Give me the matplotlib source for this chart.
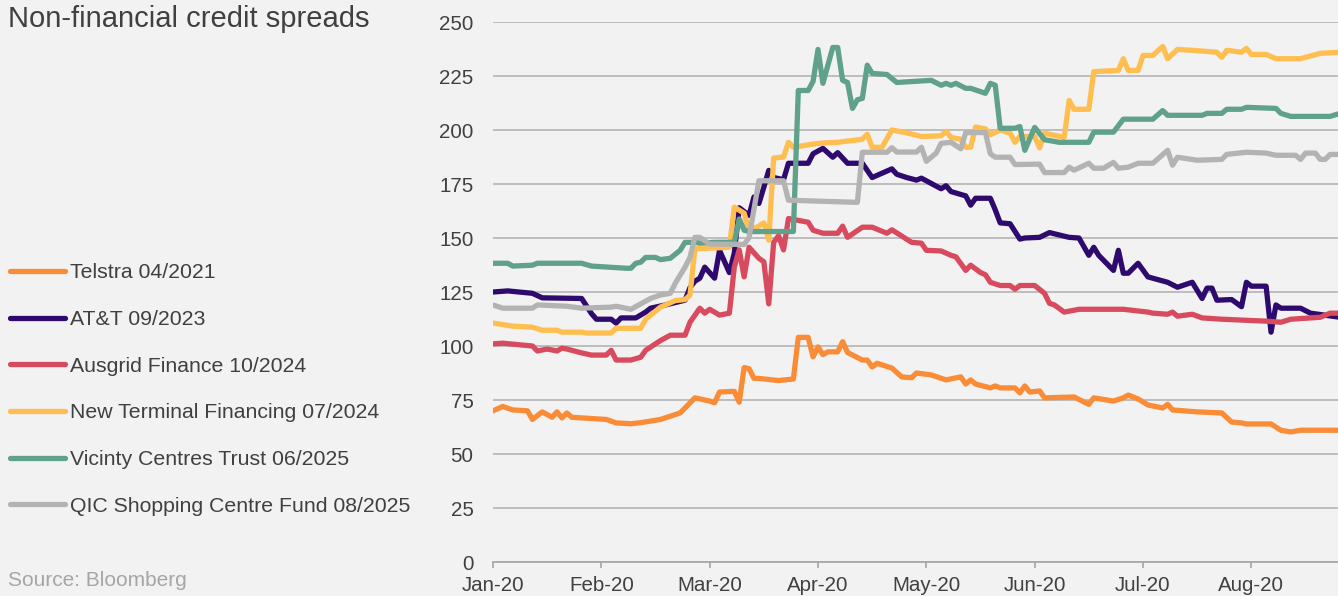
import numpy as np
import matplotlib
matplotlib.use("Agg")
import matplotlib.pyplot as plt

plt.rcParams['font.family'] = ['Liberation Sans', 'DejaVu Sans']

# x = observation number (business days since 1 Jan 2020), y = spread (bp)
telstra_obs = [0, 2, 4, 7, 8, 10, 12, 13, 14, 15, 16, 23, 25, 28, 30, 34, 38, 39, 41, 44,
               45, 46, 49, 50, 51, 52, 53, 54, 58, 61, 62, 64, 65, 66, 67, 68, 70, 71, 72, 75,
               76, 77, 78, 81, 83, 85, 86, 89, 92, 95, 96, 97, 98, 101, 102, 103, 106, 107, 108, 109,
               111, 112, 118, 121, 122, 126, 128, 129, 131, 133, 136, 137, 138, 143, 148, 150, 152, 153, 158, 160,
               162, 164, 172]
telstra_bp = [70, 72, 70.4, 70, 66, 69.5, 67, 69.5, 66.7, 69, 67, 66, 64.4, 64, 64.5, 66, 69, 71.3, 76, 74.5,
              73.7, 78.7, 79, 74, 90, 89.5, 85, 85, 84, 84.7, 104, 104, 95, 99.6, 96, 97.3, 97.3, 102, 97, 93.5,
              93.5, 90.3, 92, 89.8, 85.7, 85.3, 87.5, 86.6, 84.3, 85.7, 82.4, 84.3, 82.4, 80.6, 81.5, 80.6, 80.6, 78.3, 81.5, 78.7,
              79.2, 76, 76.4, 73, 76, 74.5, 76, 77.3, 75.5, 72.7, 71.3, 73, 70.4, 69.5, 69, 64.8, 64.4, 63.9, 63.9, 61,
              60.2, 61, 61]

att_obs = [0, 3, 8, 10, 18, 20, 21, 24, 25, 26, 29, 31, 32, 35, 39, 40, 41, 42, 43, 45,
           46, 48, 49, 50, 52, 53, 54, 55, 56, 57, 59, 60, 64, 65, 67, 69, 70, 72, 75, 77,
           81, 82, 84, 86, 87, 91, 92, 93, 96, 97, 98, 101, 102, 103, 105, 107, 108, 111, 113, 117,
           119, 121, 122, 123, 126, 127, 128, 129, 131, 133, 137, 139, 142, 144, 145, 146, 147, 150, 152, 153,
           154, 157, 158, 159, 160, 164, 166, 172]
att_bp = [125, 125.5, 124.4, 122.3, 122, 115, 112.4, 112.4, 110.6, 113, 113, 115.7, 117.5, 119, 121.2, 127, 130, 131.4, 136.5, 131.4,
          144.3, 134, 143, 164, 160.5, 169, 166, 173.5, 181.3, 178, 177, 184.6, 184.6, 189, 191.5, 187.4, 189.5, 184.6, 184.6, 178,
          182, 179.5, 178, 176.8, 177.7, 172.8, 174.2, 171.5, 169.5, 165.2, 168.4, 168.4, 163, 157, 156.6, 149.5, 150, 150.3, 152.5, 150.3,
          150, 142, 145.7, 142, 135, 144.3, 133.7, 133.7, 138.3, 132, 129.5, 127.2, 129.5, 122, 126.8, 126.8, 121.2, 121.5, 118.2, 129.5,
          127.7, 127.7, 106.4, 119, 117.5, 117.5, 115.2, 113.3]

ausgrid_obs = [0, 2, 8, 9, 11, 13, 14, 15, 18, 20, 23, 24, 25, 28, 30, 31, 34, 36, 39, 40,
               42, 43, 44, 46, 48, 49, 50, 51, 52, 54, 55, 56, 57, 58, 59, 60, 64, 65, 67, 70,
               71, 72, 75, 77, 80, 81, 85, 87, 88, 91, 93, 94, 96, 97, 99, 100, 101, 103, 105, 106,
               107, 110, 112, 113, 114, 116, 119, 128, 133, 134, 137, 138, 139, 142, 144, 148, 157, 160, 162, 168,
               170, 172]
ausgrid_bp = [101, 101.3, 100, 97.7, 98.6, 97.7, 99, 98.6, 96.8, 95.8, 95.8, 98, 93.5, 93.5, 94.8, 98, 102.5, 105, 105, 111,
              117.5, 115.2, 117, 114.3, 115.2, 136.5, 144.5, 132, 145.7, 140.6, 139, 119.5, 148, 151, 144.5, 159, 157.3, 153.6, 152.2, 152.2,
              155.5, 150.3, 155, 155, 152.2, 153.8, 148, 147.6, 144.3, 144, 142, 141.3, 135, 137.4, 134, 133, 129.5, 128, 128, 126.3,
              128, 128, 124.4, 119.8, 119, 115.7, 117, 117, 115.7, 115.2, 114.7, 115.7, 113.8, 114.7, 113, 112.4, 111.5, 111, 112.4, 113.3,
              115.2, 115.2]

ntf_obs = [0, 4, 8, 10, 13, 14, 18, 19, 24, 25, 30, 31, 34, 37, 39, 40, 41, 48, 49, 51,
           52, 54, 55, 56, 57, 59, 60, 61, 65, 67, 70, 75, 76, 77, 79, 81, 84, 87, 91, 92,
           93, 95, 96, 97, 98, 100, 101, 103, 105, 106, 107, 110, 111, 112, 116, 117, 118, 121, 122, 127,
           128, 129, 131, 132, 134, 136, 137, 139, 142, 147, 148, 149, 152, 153, 154, 157, 159, 164, 168, 172]
ntf_bp = [110.6, 109.2, 108.7, 107.3, 107.3, 106.4, 106.4, 106, 106, 108.2, 108.2, 112.4, 118, 121, 121.5, 123.6, 145, 145.7, 164.3, 161.5,
          153.5, 155.5, 157, 149, 187, 187.5, 194.3, 192, 193.5, 194, 194.3, 195.7, 198, 192, 192, 200, 198.7, 197, 197.3, 199.4,
          196.6, 195.7, 192, 192, 201.4, 200.5, 197.8, 200, 198.5, 194.3, 197, 197, 191.7, 198.5, 196.6, 213.7, 209.6, 209.6, 227, 227.6,
          233, 227.6, 227.6, 234.5, 234.5, 238.7, 233, 237.3, 236.9, 236, 233.6, 236.9, 236, 237.8, 235, 235, 233, 233, 235.5, 236]

vicinity_obs = [0, 3, 4, 8, 9, 18, 20, 27, 28, 29, 30, 31, 33, 34, 36, 38, 39, 41, 42, 45,
                49, 50, 51, 52, 61, 62, 64, 65, 66, 67, 69, 70, 71, 72, 73, 74, 75, 76, 77, 80,
                82, 89, 91, 92, 93, 94, 96, 97, 100, 101, 102, 103, 106, 107, 108, 110, 112, 115, 121, 122,
                126, 128, 134, 136, 137, 144, 145, 148, 149, 152, 153, 159, 160, 162, 170, 172]
vicinity_bp = [138.3, 138.3, 137, 137.4, 138.3, 138.3, 137, 136, 136, 138.3, 138.8, 141, 141, 140, 140.6, 144.3, 148, 148, 147.6, 148,
               148, 158.8, 153.6, 153, 153, 218.3, 218.3, 222.5, 237.3, 221.6, 238.2, 238.2, 223, 222, 210, 214, 214.6, 230, 226.2, 225.7,
               222, 223, 220.7, 221.6, 220.7, 221.6, 219.3, 219.3, 217, 221.6, 220.7, 200.8, 200.8, 201.6, 190.6, 201.2, 195.5, 194.3, 194.3, 199,
               199, 205, 205, 209, 206.8, 206.8, 207.7, 207.7, 209.6, 209.6, 210.5, 210, 207.7, 206.3, 206.3, 207.7]

qic_obs = [0, 2, 8, 9, 15, 18, 24, 25, 28, 30, 32, 34, 36, 37, 39, 40, 41, 42, 44, 51,
           52, 54, 59, 60, 74, 75, 80, 81, 82, 86, 87, 88, 90, 91, 93, 95, 96, 100, 101, 102,
           105, 106, 111, 112, 116, 117, 118, 121, 122, 124, 126, 127, 129, 131, 134, 137, 138, 139, 143, 148,
           149, 153, 157, 159, 163, 164, 165, 167, 168, 169, 170, 172]
qic_bp = [119, 117.5, 117.5, 119, 118.4, 117.5, 118, 118.4, 117, 119.5, 122, 123.6, 124.4, 129, 136.5, 141, 150.3, 150.3, 147.2, 147,
          150.2, 176.5, 176.5, 167.5, 166.5, 189.7, 189.7, 191.8, 189.8, 189.8, 192, 185.5, 189.3, 193.8, 194.3, 191.3, 198.8, 198.8, 189, 187.4,
          187.4, 184, 184.2, 180.3, 180.3, 182.8, 181.4, 184.6, 182.3, 182.3, 185, 182.3, 182.8, 184.6, 184.6, 190.6, 183.7, 187.4, 186, 186.4,
          188.7, 189.7, 189.3, 188.3, 188.3, 186.4, 189.3, 189.3, 186.4, 186.4, 188.7, 188.7]

month_labels = ['Jan-20', 'Feb-20', 'Mar-20', 'Apr-20', 'May-20', 'Jun-20', 'Jul-20', 'Aug-20']
obs_per_tick = 22

series = [
    ('Telstra 04/2021', telstra_obs, telstra_bp, '#FA8C37'),
    ('AT&T 09/2023', att_obs, att_bp, '#2E0A6E'),
    ('Ausgrid Finance 10/2024', ausgrid_obs, ausgrid_bp, '#D84B5E'),
    ('New Terminal Financing 07/2024', ntf_obs, ntf_bp, '#FFBE50'),
    ('Vicinty Centres Trust 06/2025', vicinity_obs, vicinity_bp, '#5FA18A'),
    ('QIC Shopping Centre Fund 08/2025', qic_obs, qic_bp, '#B3B3B3'),
]

bg = '#F2F2F2'
txt = '#404040'

fig = plt.figure(figsize=(13.38, 5.96), dpi=100, facecolor=bg)
ax = fig.add_axes([493 / 1338, 1 - 562 / 596, 1 - 493 / 1338, (562 - 22) / 596])
ax.set_facecolor(bg)

for name, xs, ys, col in series:
    ax.plot(xs, ys, color=col, lw=3.8, label=name,
            solid_joinstyle='round', solid_capstyle='round')

ax.set_ylim(0, 250)
ax.set_xlim(0, 171.6)
ax.set_yticks(np.arange(0, 251, 25))
ax.set_xticks(np.arange(len(month_labels)) * obs_per_tick)
ax.set_xticklabels(month_labels)
ax.grid(axis='y', color='#B4B4B4', lw=1.2)
ax.set_axisbelow(True)
for s in ['top', 'right', 'left']:
    ax.spines[s].set_visible(False)
ax.spines['bottom'].set_color('#A6A6A6')
ax.spines['bottom'].set_linewidth(1.2)
ax.tick_params(axis='y', length=0, pad=14, labelsize=14.8, labelcolor=txt)
ax.tick_params(axis='x', length=4, width=1.2, color='#A6A6A6', pad=6,
               labelsize=14.8, labelcolor=txt)

fig.legend(loc='center left', bbox_to_anchor=(10 / 1338, 1 - 389.5 / 596),
           frameon=False, fontsize=15.3, labelcolor=txt, handlelength=2.6,
           handletextpad=0.2, labelspacing=1.3, borderpad=0, borderaxespad=0)

fig.text(8 / 1338, 1 - 19 / 596, 'Non-financial credit spreads', fontsize=21,
         color=txt, va='center', ha='left')
fig.text(8 / 1338, 1 - 580 / 596, 'Source: Bloomberg', fontsize=15,
         color='#A6A6A6', va='center', ha='left')

fig.savefig('out.png', dpi=100, facecolor=bg)
